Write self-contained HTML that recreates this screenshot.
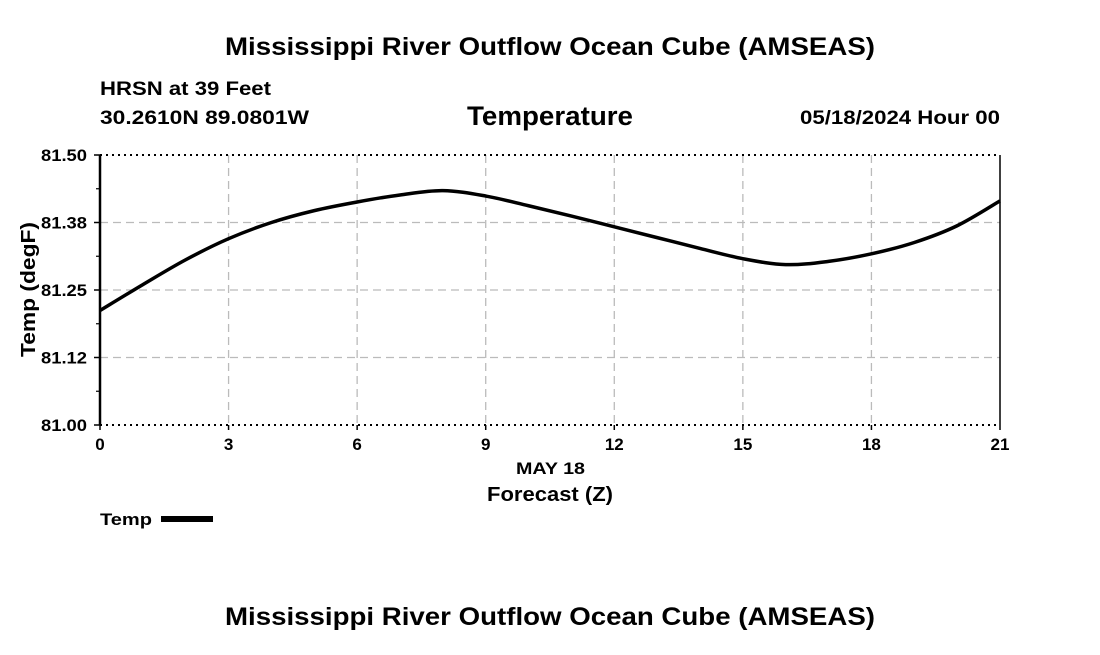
<!DOCTYPE html>
<html><head><meta charset="utf-8"><style>
body{margin:0;background:#fff;width:1100px;height:650px;overflow:hidden;font-family:"Liberation Sans",sans-serif}
svg text{font-family:"Liberation Sans",sans-serif;font-weight:bold;fill:#000}
</style></head><body>
<svg id="c" width="1100" height="650">
<text x="225" y="55" font-size="25" textLength="650" lengthAdjust="spacingAndGlyphs">Mississippi River Outflow Ocean Cube (AMSEAS)</text>
<text x="100" y="95" font-size="19" textLength="171" lengthAdjust="spacingAndGlyphs">HRSN at 39 Feet</text>
<text x="100" y="124" font-size="19" textLength="209" lengthAdjust="spacingAndGlyphs">30.2610N  89.0801W</text>
<text x="467" y="125" font-size="27" textLength="166" lengthAdjust="spacingAndGlyphs">Temperature</text>
<text x="800" y="124" font-size="19" textLength="200" lengthAdjust="spacingAndGlyphs">05/18/2024 Hour 00</text>
<g id="grid"></g>
<g id="axes"></g>
<path id="line" fill="none" stroke="#000" stroke-width="3.5"/>
<text x="516" y="474" font-size="17" textLength="69" lengthAdjust="spacingAndGlyphs">MAY 18</text>
<text x="487" y="501" font-size="20" textLength="126" lengthAdjust="spacingAndGlyphs">Forecast (Z)</text>
<text transform="translate(35,357) rotate(-90)" font-size="20" textLength="135" lengthAdjust="spacingAndGlyphs">Temp (degF)</text>
<text x="100" y="525" font-size="17" textLength="52" lengthAdjust="spacingAndGlyphs">Temp</text>
<rect x="161" y="516" width="52" height="6" fill="#000"/>
<text x="225" y="625" font-size="25" textLength="650" lengthAdjust="spacingAndGlyphs">Mississippi River Outflow Ocean Cube (AMSEAS)</text>
</svg>
<script>
const hours=[0,1,2,3,4,5,6,7,8,9,10,11,12,13,14,15,16,17,18,19,20,21];
const temps=[81.212,81.26,81.306,81.345,81.375,81.397,81.413,81.426,81.434,81.424,81.406,81.387,81.367,81.347,81.327,81.308,81.297,81.303,81.317,81.338,81.369,81.415];
const xTicks=[0,3,6,9,12,15,18,21];
const yTicks=[81.0,81.125,81.25,81.375,81.5];
const yTickLabels=["81.00","81.12","81.25","81.38","81.50"];
const X0=100,X1=1000,Y0=425,Y1=155;
const xs=h=>X0+(h-0)/21*(X1-X0);
const ys=v=>Y0-(v-81)/0.5*(Y0-Y1);
const NS="http://www.w3.org/2000/svg";
const grid=document.getElementById('grid'),axes=document.getElementById('axes');
function mk(p,tag,a){const e=document.createElementNS(NS,tag);for(const k in a)e.setAttribute(k,a[k]);p.appendChild(e);return e;}
xTicks.forEach(t=>{
 const x=xs(t);
 if(t>0&&t<21){const l=mk(grid,'line',{x1:x,x2:x,y1:Y1,y2:Y0,stroke:'#bbb','stroke-width':1.3,'stroke-dasharray':'8,5'});
 
 }
 const tk=mk(axes,'line',{x1:x,x2:x,y1:Y0,y2:Y0+5,stroke:'#000','stroke-width':1.5});
 
 
 const tx=mk(axes,'text',{x:x,y:Y0+25,'font-size':17,'text-anchor':'middle'});tx.textContent=t;
 
 
});
yTicks.forEach((v,i)=>{
 const y=ys(v);
 const edge=(i==0||i==yTicks.length-1);
 const l=mk(grid,'line',{x1:X0,x2:X1,y1:y,y2:y,stroke:edge?'#000':'#bbb','stroke-width':edge?2:1.3,'stroke-dasharray':edge?'2,4':'8,5'});
 
 
 const tk=mk(axes,'line',{x1:X0-6,x2:X0,y1:y,y2:y,stroke:'#000','stroke-width':1.5});
 
 
 const tx=mk(axes,'text',{x:X0-59,y:y+6,'font-size':17,textLength:46,lengthAdjust:'spacingAndGlyphs'});tx.textContent=yTickLabels[i];
 
 
 if(i<yTicks.length-1){const m=ys(v+0.0625);const mt=mk(axes,'line',{x1:X0-4,x2:X0,y1:m,y2:m,stroke:'#000','stroke-width':1.2});
 
 }
});
const la=mk(axes,'line',{x1:X0,x2:X0,y1:Y1,y2:Y0,stroke:'#000','stroke-width':2.5});


const ra=mk(axes,'line',{x1:X1,x2:X1,y1:Y1,y2:Y0,stroke:'#000','stroke-width':1.5});


const P=hours.map((h,i)=>[xs(h),ys(temps[i])]);
let d='M'+P[0][0]+','+P[0][1];
for(let i=0;i<P.length-1;i++){
 const p0=P[Math.max(0,i-1)],p1=P[i],p2=P[i+1],p3=P[Math.min(P.length-1,i+2)];
 d+=` C${p1[0]+(p2[0]-p0[0])/6},${p1[1]+(p2[1]-p0[1])/6} ${p2[0]-(p3[0]-p1[0])/6},${p2[1]-(p3[1]-p1[1])/6} ${p2[0]},${p2[1]}`;
}
document.getElementById('line').setAttribute('d',d);
</script>
</body></html>
